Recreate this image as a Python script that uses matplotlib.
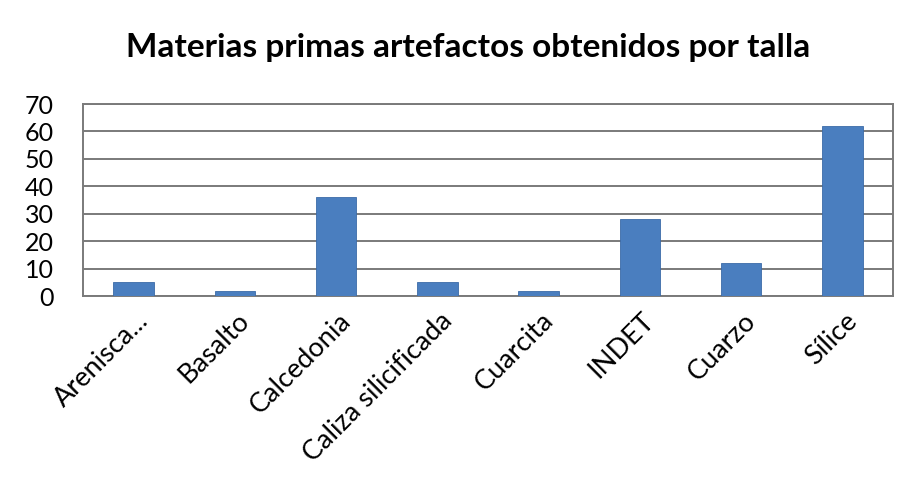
import matplotlib
matplotlib.use("Agg")
import matplotlib.pyplot as plt
from matplotlib.transforms import ScaledTranslation

categories = ["Arenisca...", "Basalto", "Calcedonia", "Caliza silicificada",
              "Cuarcita", "INDET", "Cuarzo", "Sílice"]
values = [5, 2, 36, 5, 2, 28, 12, 62]
yticks = [0, 10, 20, 30, 40, 50, 60, 70]
title = "Materias primas artefactos obtenidos por talla"

plt.rcParams['font.family'] = ['Lato', 'DejaVu Sans']

fig = plt.figure(figsize=(9.06, 4.90), dpi=100)
W, H = 906, 490
left, right, top, bottom = 83, 893, 104, 296
ax = fig.add_axes([left / W, 1 - bottom / H, (right - left) / W, (bottom - top) / H])

x = list(range(len(categories)))
ax.bar(x, values, width=0.4, color="#4A7EBF", edgecolor="#3B6BA8", linewidth=0.6, zorder=3)
ax.set_xlim(-0.5, len(categories) - 0.5)
ax.set_ylim(0, 70)
ax.set_yticks(yticks)
ax.set_yticklabels([str(v) for v in yticks], fontsize=18)
ax.yaxis.grid(True, color="#7A7A7A", linewidth=1.4, zorder=0)
ax.set_axisbelow(True)
ax.tick_params(axis='y', length=0, pad=21)
ax.tick_params(axis='x', length=0, pad=0)
ax.set_xticks(x)
ax.set_xticklabels(categories, rotation=45, ha='right', rotation_mode='anchor', fontsize=19.5)
offset = ScaledTranslation(2 / 100, -12 / 100, fig.dpi_scale_trans)
for lab in ax.get_xticklabels():
    lab.set_transform(lab.get_transform() + offset)
for s in ax.spines.values():
    s.set_color("#7A7A7A")
    s.set_linewidth(1.4)

fig.text(468 / W, 1 - 47 / H, title, ha='center', va='center', fontsize=24, fontweight='bold')

fig.savefig("out.png", dpi=100)
